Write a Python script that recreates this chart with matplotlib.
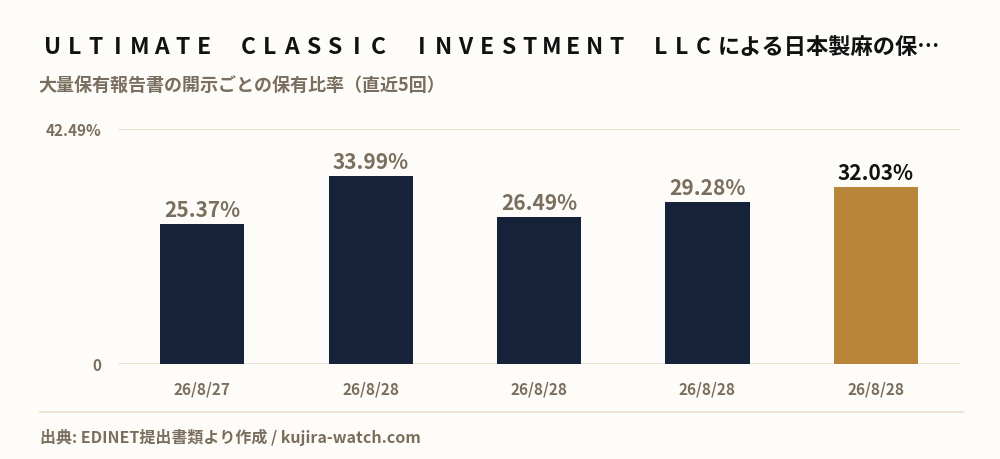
import matplotlib
matplotlib.use('Agg')
import matplotlib.pyplot as plt

plt.rcParams['font.family'] = ['Noto Sans CJK JP', 'DejaVu Sans']

# data
dates = ['26/8/27', '26/8/28', '26/8/28', '26/8/28', '26/8/28']
ratios = [25.37, 33.99, 26.49, 29.28, 32.03]
y_max = 42.49
title_latin = 'ULTIMATE CLASSIC INVESTMENT LLC'
title_rest = 'による日本製麻の保…'
subtitle = '大量保有報告書の開示ごとの保有比率（直近5回）'
source = '出典: EDINET提出書類より作成 / kujira-watch.com'

bg = '#FDFCF8'
navy = '#16213A'
gold = '#B8863B'
muted = '#7A6E5E'
grid = '#E8E0CC'

fig = plt.figure(figsize=(10, 4.6), dpi=100, facecolor=bg)
ax = fig.add_axes([0.118, 1 - 365 / 460, 0.842, 235 / 460])
ax.set_facecolor(bg)

x = list(range(len(ratios)))
colors = [navy] * (len(ratios) - 1) + [gold]
bars = ax.bar(x, ratios, width=0.5, color=colors, zorder=3)

ax.set_xlim(-0.5, len(ratios) - 0.5)
ax.set_ylim(0, y_max)
ax.set_yticks([0, y_max])
ax.set_yticklabels(['0', f'{y_max:.2f}%'])
ax.set_xticks(x)
ax.set_xticklabels(dates)
ax.tick_params(length=0, colors=muted, labelsize=11)
ax.tick_params(axis='x', pad=12)
ax.tick_params(axis='y', pad=12)
for lab in ax.get_xticklabels() + ax.get_yticklabels():
    lab.set_fontweight('bold')
    lab.set_color(muted)
ax.grid(axis='y', color=grid, linewidth=1.2, zorder=0)
for s in ax.spines.values():
    s.set_visible(False)

for i, (b, v) in enumerate(zip(bars, ratios)):
    c = '#111111' if i == len(ratios) - 1 else muted
    ax.annotate(f'{v:.2f}%', (b.get_x() + b.get_width() / 2, v),
                xytext=(0, 3), textcoords='offset points',
                ha='center', va='bottom', fontsize=15, fontweight='bold', color=c)

# title: letter-spaced latin part, each glyph centred in its own cell
px = 45
step = 21.7
for ch in title_latin:
    fig.text((px + 7.5) / 1000, 1 - 47 / 460, ch, fontsize=16.5, fontweight='bold',
             color='#111111', ha='center', va='center')
    px += step
fig.text(px / 1000, 1 - 47 / 460, title_rest, fontsize=16, fontweight='bold',
         color='#111111', ha='left', va='center')

fig.text(38 / 1000, 1 - 85 / 460, subtitle, fontsize=13, fontweight='bold',
         color=muted, ha='left', va='center')

fig.add_artist(plt.Line2D([40 / 1000, 963 / 1000], [1 - 413 / 460, 1 - 413 / 460],
                          color=grid, linewidth=1.2))
fig.text(40 / 1000, 1 - 437 / 460, source, fontsize=11.5, fontweight='bold',
         color=muted, ha='left', va='center')

fig.savefig('out.png', dpi=100, facecolor=bg)
